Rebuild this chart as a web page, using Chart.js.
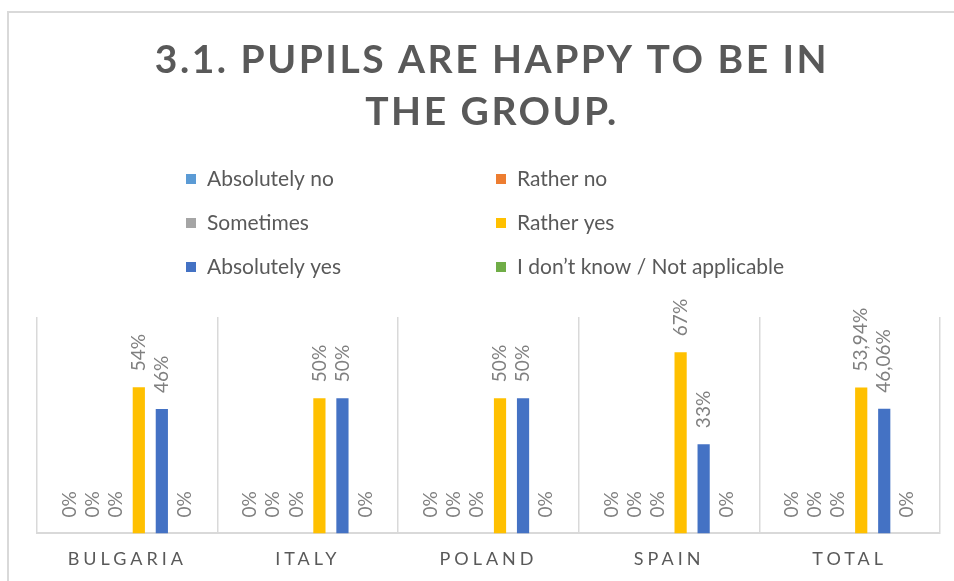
<!DOCTYPE html>
<html>
<head>
<meta charset="utf-8">
<style>
  html, body { margin: 0; padding: 0; background: #fff; }
  canvas { display: block; }
</style>
<script src="https://cdn.jsdelivr.net/npm/chart.js"></script>
</head>
<body>
<canvas id="happyChart" width="954" height="581"></canvas>
<script>
const titleLines = ['3.1. PUPILS ARE HAPPY TO BE IN', 'THE GROUP.'];
const countries = ['BULGARIA', 'ITALY', 'POLAND', 'SPAIN', 'TOTAL'];
const answerLabels = ['Absolutely no', 'Rather no', 'Sometimes', 'Rather yes', 'Absolutely yes', 'I don\u2019t know / Not applicable'];
const answerColors = ['#5B9BD5', '#ED7D31', '#A5A5A5', '#FFC000', '#4472C4', '#70AD47'];

// percent of pupils per answer, one value per country
const absolutelyNo = [0, 0, 0, 0, 0];
const ratherNo = [0, 0, 0, 0, 0];
const sometimes = [0, 0, 0, 0, 0];
const ratherYes = [54, 50, 50, 67, 53.94];
const absolutelyYes = [46, 50, 50, 33, 46.06];
const dontKnow = [0, 0, 0, 0, 0];

const seriesValues = [absolutelyNo, ratherNo, sometimes, ratherYes, absolutelyYes, dontKnow];

const fontName = 'Lato, "Noto Sans", sans-serif';
const textGray = '#595959';
const lineGray = '#d9d9d9';

function pctText(v) {
    if (Number.isInteger(v)) return v + '%';
    return v.toFixed(2).replace('.', ',') + '%';
}

// frame, title and the two-column legend
const framePlugin = {
    id: 'frame',
    beforeDraw(chart) {
        const ctx = chart.ctx;
        ctx.save();
        ctx.fillStyle = '#fff';
        ctx.fillRect(0, 0, chart.width, chart.height);
        ctx.strokeStyle = lineGray;
        ctx.lineWidth = 2;
        ctx.strokeRect(8, 12, chart.width + 20, chart.height + 20);
        ctx.restore();
    },
    afterDraw(chart) {
        const ctx = chart.ctx;
        ctx.save();
        ctx.fillStyle = textGray;
        ctx.textAlign = 'center';
        ctx.textBaseline = 'middle';
        ctx.font = 'bold 39px ' + fontName;
        ctx.letterSpacing = '2.5px';
        titleLines.forEach((line, i) => {
            ctx.fillText(line, 492, 60 + i * 52);
        });

        ctx.letterSpacing = '0px';
        ctx.textAlign = 'left';
        ctx.font = '21px ' + fontName;
        const colX = [186, 496];
        chart.data.datasets.forEach((ds, i) => {
            const x = colX[i % 2];
            const y = 179 + Math.floor(i / 2) * 44;
            ctx.fillStyle = ds.backgroundColor;
            ctx.fillRect(x, y - 5, 10, 10);
            ctx.fillStyle = textGray;
            ctx.fillText(ds.label, x + 21, y);
        });
        ctx.restore();
    }
};

// rotated value labels above each bar
const valueLabelPlugin = {
    id: 'valueLabels',
    afterDatasetsDraw(chart) {
        const ctx = chart.ctx;
        ctx.save();
        ctx.fillStyle = '#808080';
        ctx.font = '19px ' + fontName;
        ctx.textAlign = 'left';
        ctx.textBaseline = 'middle';
        chart.data.datasets.forEach((ds, di) => {
            const meta = chart.getDatasetMeta(di);
            meta.data.forEach((bar, i) => {
                ctx.save();
                ctx.translate(bar.x, bar.y - 16);
                ctx.rotate(-Math.PI / 2);
                ctx.fillText(pctText(ds.data[i]), 0, 0);
                ctx.restore();
            });
        });
        ctx.restore();
    }
};

// wide letter spacing for category names
const spacingPlugin = {
    id: 'tickSpacing',
    beforeDraw(chart) { chart.ctx.letterSpacing = '4px'; },
    beforeDatasetsDraw(chart) { chart.ctx.letterSpacing = '0px'; }
};

const datasets = answerLabels.map((label, i) => ({
    label: label,
    data: seriesValues[i],
    backgroundColor: answerColors[i],
    barPercentage: 0.53,
    categoryPercentage: 0.765
}));

new Chart(document.getElementById('happyChart').getContext('2d'), {
    type: 'bar',
    data: { labels: countries, datasets: datasets },
    options: {
        responsive: false,
        animation: false,
        layout: { padding: { left: 37, right: 14, top: 317, bottom: -4 } },
        plugins: {
            legend: { display: false },
            title: { display: false },
            tooltip: { enabled: false }
        },
        scales: {
            x: {
                grid: { offset: true, color: lineGray, lineWidth: 1.5, drawTicks: false },
                border: { color: lineGray, width: 2 },
                ticks: { color: textGray, font: { family: fontName, size: 18 }, padding: 15 }
            },
            y: { display: false, min: 0, max: 80 }
        }
    },
    plugins: [framePlugin, valueLabelPlugin, spacingPlugin]
});
</script>
</body>
</html>
